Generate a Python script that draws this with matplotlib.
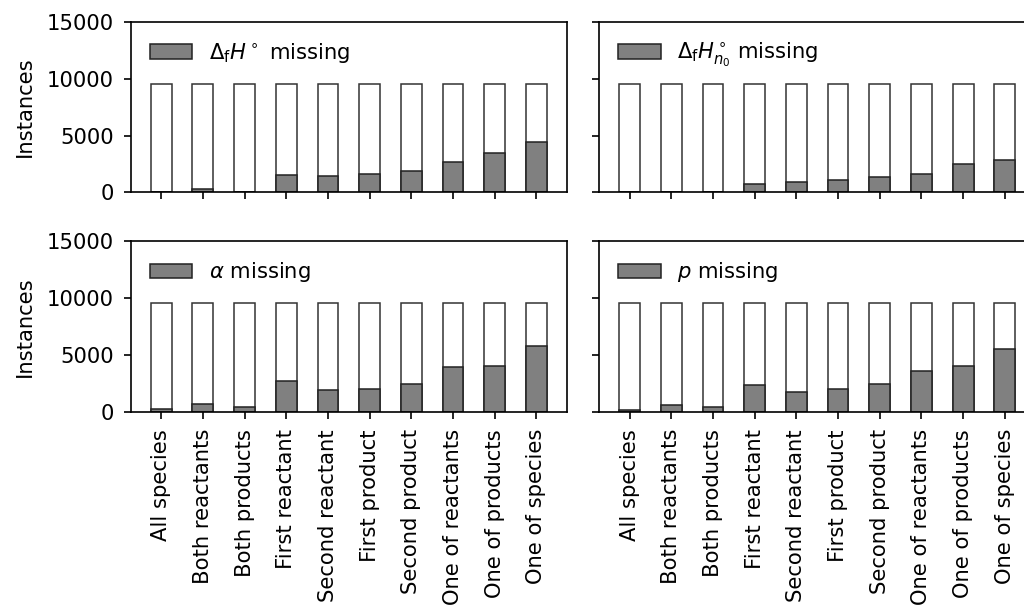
import numpy as np
import matplotlib
matplotlib.use('Agg')
import matplotlib.pyplot as plt

# categories on the x axis
categories = ['All species', 'Both reactants', 'Both products', 'First reactant',
              'Second reactant', 'First product', 'Second product',
              'One of reactants', 'One of products', 'One of species']

total = [9550] * 10

# missing instances per panel
miss_dfh = [0, 250, 40, 1500, 1420, 1590, 1910, 2650, 3440, 4410]
miss_dfh_n0 = [0, 0, 30, 700, 910, 1120, 1380, 1590, 2470, 2880]
miss_alpha = [210, 680, 440, 2730, 1910, 2030, 2470, 3970, 4030, 5770]
miss_p = [180, 590, 440, 2350, 1770, 2030, 2440, 3560, 4000, 5560]

labels = [r'$\Delta_\mathrm{f}H^\circ$ missing',
          r'$\Delta_\mathrm{f}H_{n_0}^\circ$ missing',
          r'$\alpha$ missing',
          r'$p$ missing']
series = [miss_dfh, miss_dfh_n0, miss_alpha, miss_p]

plt.rcParams['font.size'] = 15.2
plt.rcParams['axes.linewidth'] = 1.2
plt.rcParams['xtick.major.width'] = 1.2
plt.rcParams['ytick.major.width'] = 1.2
plt.rcParams['xtick.major.size'] = 5
plt.rcParams['ytick.major.size'] = 5
plt.rcParams['xtick.major.pad'] = 7.5
plt.rcParams['ytick.major.pad'] = 7.5

fig = plt.figure(figsize=(10.24, 6.1), dpi=100)
w, h = 0.4255, 0.2792
pos = [[0.1279, 0.6848, w, h], [0.5853, 0.6848, w, h],
       [0.1279, 0.3251, w, h], [0.5853, 0.3251, w, h]]

x = np.arange(len(categories))
for i in range(4):
    ax = fig.add_axes(pos[i])
    ax.bar(x, total, width=0.5, color='white', edgecolor='#333333', linewidth=1.1)
    ax.bar(x, series[i], width=0.5, color='grey', edgecolor='#222222', linewidth=1.1,
           label=labels[i])
    ax.set_ylim(0, 15000)
    ax.set_yticks([0, 5000, 10000, 15000])
    ax.set_xticks(x)
    if i >= 2:
        ax.set_xticklabels(categories, rotation=90)
    else:
        ax.set_xticklabels([])
    if i % 2 == 0:
        ax.set_ylabel('Instances', labelpad=8)
    else:
        ax.set_yticklabels([])
    ax.legend(loc='upper left', frameon=False)

fig.savefig('out.png', dpi=100)
